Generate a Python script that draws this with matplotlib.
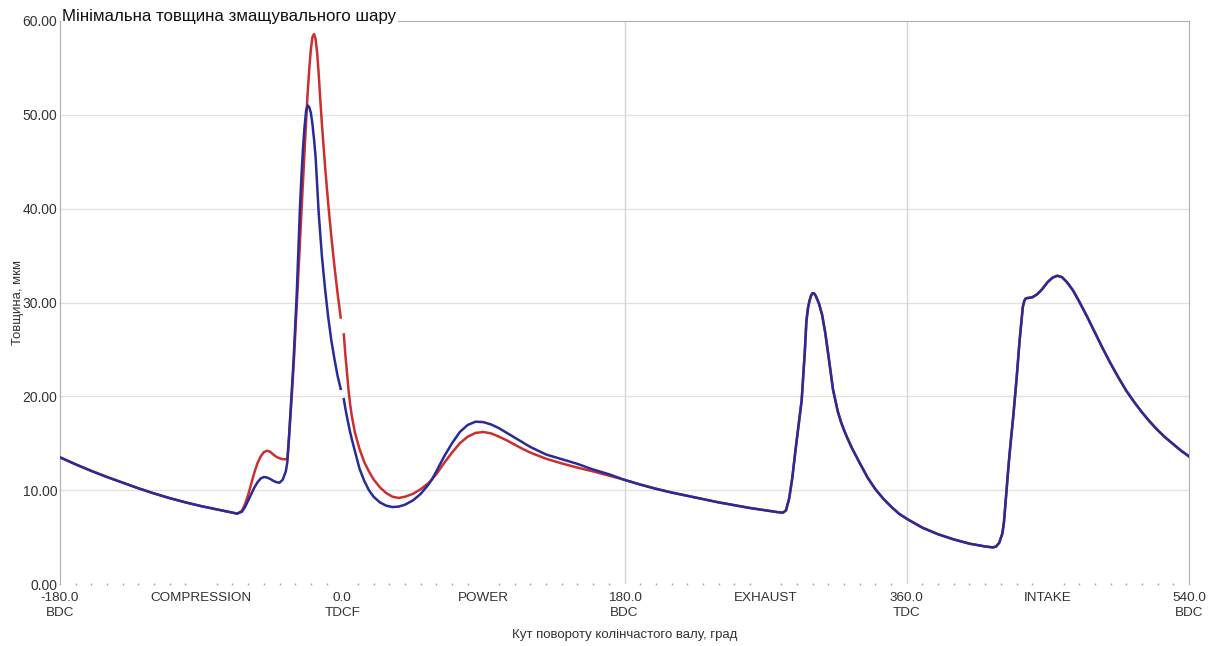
import numpy as np
import matplotlib
matplotlib.use("Agg")
import matplotlib.pyplot as plt

plt.rcParams["font.family"] = ["Liberation Sans", "DejaVu Sans"]

# crank angle, deg; film thickness, um
angle_head = [-180, -170, -160, -150, -140, -130, -120, -110, -100, -90, -80, -70, -67]
thick_head = [13.5, 12.75, 12.05, 11.4, 10.8, 10.2, 9.65, 9.15, 8.7, 8.3, 7.95, 7.6, 7.5]

angle_comp = [-64, -62, -60, -58, -56, -54, -52, -50, -48, -46, -44, -42, -40, -38, -36,
              -35, -34, -33, -32, -31, -30, -29, -28, -27, -26, -25, -24, -23, -22, -21,
              -20, -19, -18, -17, -16, -15, -14, -13,
              -11, -9, -7, -5, -3, -1,
              0,
              1, 2, 3, 4, 5, 6,
              8, 11, 14, 17, 20, 24, 28, 32, 36, 40,
              45, 50, 55, 57, 60, 65, 70, 75, 80, 85, 90, 95, 100,
              105, 110, 115, 120,
              130, 140, 150, 160, 170, 180]
red_comp = [7.8, 8.5, 9.5, 10.7, 11.9, 12.9, 13.6, 14.05, 14.2, 14.1, 13.8, 13.55, 13.4, 13.3, 13.3,
            13.4, 15.5, 18.0, 20.5, 23.3, 26.5, 29.8, 33.0, 36.4, 39.8, 43.0, 46.3, 49.5, 52.5, 55.0,
            57.0, 58.3, 58.6, 58.1, 56.6, 54.3, 51.6, 49.1,
            44.6, 40.6, 37.1, 33.9, 31.0, 28.4,
            np.nan,
            26.6, 24.4, 22.5, 20.7, 19.2, 18.0,
            16.2, 14.4, 13.0, 12.0, 11.15, 10.3, 9.7, 9.3, 9.17, 9.3,
            9.6, 10.1, 10.75, 11.1, 11.7, 12.9, 14.0, 15.0, 15.7, 16.1, 16.2, 16.05, 15.7,
            15.3, 14.85, 14.4, 14.0,
            13.35, 12.85, 12.4, 12.0, 11.55, 11.1]
blue_comp = [7.7, 8.2, 8.9, 9.6, 10.3, 10.85, 11.25, 11.4, 11.35, 11.2, 11.0, 10.85, 10.8, 11.1, 12.0,
             13.0, 15.5, 18.3, 21.0, 24.0, 27.5, 31.0, 35.5, 40.0, 43.5, 46.5, 48.8, 50.5, 51.0, 50.8,
             50.2, 49.0, 47.4, 45.5, 42.6, 39.5, 37.2, 35.0,
             31.5, 28.5, 26.0, 24.0, 22.2, 20.8,
             np.nan,
             19.7, 18.7, 17.8, 17.0, 16.2, 15.5,
             14.2, 12.3, 11.0, 10.0, 9.3, 8.7, 8.35, 8.2, 8.25, 8.45,
             8.9, 9.6, 10.6, 11.1, 12.0, 13.6, 15.0, 16.2, 16.95, 17.3, 17.25, 17.0, 16.6,
             16.1, 15.6, 15.1, 14.6,
             13.8, 13.3, 12.8, 12.2, 11.7, 11.1]

angle_tail = [190, 200, 210, 220, 230, 240, 250, 260, 270, 278, 281, 283, 285, 287, 289,
              291, 293, 295, 296, 297, 298, 299, 300, 301, 302, 304, 306, 308, 310, 313,
              316, 318, 320, 322, 325, 330, 335, 340, 345, 350, 355, 360, 370, 380, 390,
              400, 410, 415, 417, 419, 421, 422, 423, 424, 425, 426, 428, 430, 432, 434,
              435, 436, 438, 440, 443, 446, 450, 453, 456, 459, 462, 466, 470, 475, 480,
              485, 490, 495, 500, 505, 510, 515, 520, 525, 530, 535, 540]
thick_tail = [10.6, 10.15, 9.75, 9.4, 9.05, 8.7, 8.4, 8.1, 7.85, 7.65, 7.6, 7.85, 9.1, 11.3, 14.2,
              16.9, 19.6, 24.8, 28.0, 29.4, 30.2, 30.75, 31.0, 30.95, 30.7, 29.9, 28.7, 26.8, 24.4, 20.7,
              18.4, 17.3, 16.4, 15.6, 14.5, 12.9, 11.35, 10.1, 9.1, 8.25, 7.5, 6.95, 6.0, 5.3, 4.75,
              4.3, 4.0, 3.9, 4.0, 4.4, 5.4, 6.6, 8.7, 10.9, 12.8, 14.6, 18.0, 21.8, 26.0, 29.5,
              30.2, 30.45, 30.5, 30.55, 30.85, 31.35, 32.2, 32.65, 32.85, 32.7, 32.2, 31.3, 30.1, 28.5, 26.8,
              25.1, 23.5, 22.0, 20.6, 19.4, 18.3, 17.3, 16.4, 15.6, 14.9, 14.2, 13.6]

angle = angle_head + angle_comp + angle_tail
red = thick_head + red_comp + thick_tail
blue = thick_head + blue_comp + thick_tail

tick_pos = [-180, -90, 0, 90, 180, 270, 360, 450, 540]
tick_labels = ["-180.0\nBDC", "COMPRESSION", "0.0\nTDCF", "POWER", "180.0\nBDC",
               "EXHAUST", "360.0\nTDC", "INTAKE", "540.0\nBDC"]
y_ticks = [0, 10, 20, 30, 40, 50, 60]

fig = plt.figure(figsize=(12.11, 6.46), dpi=100)
ax = fig.add_axes([60 / 1211, 1 - 584 / 646, 1129 / 1211, 563 / 646])

for y in y_ticks[1:-1]:
    ax.axhline(y, color="#e2e2e2", lw=1, zorder=0)
for x in [180, 360]:
    ax.axvline(x, color="#d6d6d6", lw=1, zorder=0)

ax.plot(angle, red, color="#cc2f2f", lw=1.8, zorder=2)
ax.plot(angle, blue, color="#2a2a98", lw=1.8, zorder=3)

ax.set_xlim(-180, 540)
ax.set_ylim(0, 60)
ax.set_xticks(tick_pos)
ax.set_xticklabels(tick_labels, fontsize=9.7, color="#333333", linespacing=1.35)
ax.set_xticks(np.arange(-180, 541, 10), minor=True)
ax.tick_params(axis="x", which="major", length=0, pad=5.5)
ax.tick_params(axis="x", which="minor", length=1.5, width=1, color="#aaaaaa",
               direction="inout")
ax.set_yticks(y_ticks)
ax.set_yticklabels([f"{v:.2f}" for v in y_ticks], fontsize=10, color="#333333")
ax.tick_params(axis="y", length=1, color="#bbbbbb", pad=1)

for side in ["left", "right", "top"]:
    ax.spines[side].set_color("#b0b0b0")
ax.spines["bottom"].set_visible(False)

ax.set_xlabel("Кут повороту колінчастого валу, град", fontsize=9.5, color="#333333")
ax.xaxis.set_label_coords(0.5, -0.08)
ax.set_ylabel("Товщина, мкм", fontsize=9.5, color="#333333")
ax.yaxis.set_label_coords(-0.032, 0.5)

ax.text(0.002, 1.0, "Мінімальна товщина змащувального шару", transform=ax.transAxes,
        fontsize=12.2, va="baseline", ha="left", color="#111111",
        bbox=dict(facecolor="white", edgecolor="none", pad=1))

fig.savefig("out.png", dpi=100)
